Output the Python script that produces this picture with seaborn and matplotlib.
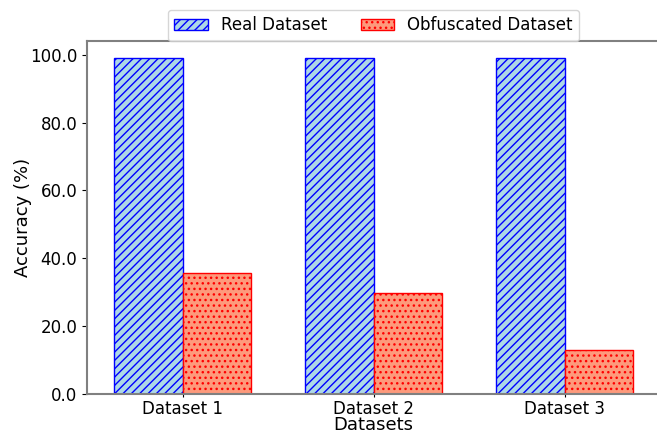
import matplotlib
matplotlib.use("Agg")
import matplotlib.pyplot as plt
import seaborn as sns
import pandas as pd

categories = ["Dataset 1", "Dataset 2", "Dataset 3"]
real_acc = [99.1, 99.1, 99.1]
obf_acc = [35.8, 29.9, 12.9]
series_names = ["Real Dataset", "Obfuscated Dataset"]

df = pd.DataFrame({
    "Dataset": categories * 2,
    "Accuracy": real_acc + obf_acc,
    "Type": [series_names[0]] * 3 + [series_names[1]] * 3,
})

plt.rcParams["hatch.linewidth"] = 1.0
fig = plt.figure(figsize=(6.57, 4.34), dpi=100)
ax = fig.add_axes([87/657, 40/434, (660-87)/657, (394-41)/434])

sns.barplot(data=df, x="Dataset", y="Accuracy", hue="Type",
            palette=["#add8e6", "#fd9a7c"], width=0.72, ax=ax,
            saturation=1, legend=False, errorbar=None)

styles = [("#add8e6", "blue", "////"), ("#fd9a7c", "red", "...")]
for cont, (fc, ec, h) in zip(ax.containers, styles):
    for p in cont:
        p.set_facecolor(fc)
        p.set_edgecolor(ec)
        p.set_hatch(h)
        p.set_linewidth(1.0)

ax.set_xlim(-0.5, 2.5)
ax.set_xlabel("Datasets", fontsize=13, labelpad=-1)
ax.set_ylabel("Accuracy (%)", fontsize=13, labelpad=-1.5)
ax.tick_params(axis="both", labelsize=12)
ax.tick_params(axis="x", length=2, pad=2)
ax.yaxis.set_major_formatter(matplotlib.ticker.FormatStrFormatter("%.1f"))
ax.set_yticks([0, 20, 40, 60, 80, 100])
for s in ["left", "bottom", "top"]:
    ax.spines[s].set_color("gray")
    ax.spines[s].set_linewidth(1.5)
ax.spines["right"].set_visible(False)

ax.legend(ax.containers, series_names, loc="lower center",
          bbox_to_anchor=(0.5, 1.0), ncol=2, fontsize=12, frameon=True,
          borderaxespad=0.0, columnspacing=2.0)

fig.savefig("out.png", dpi=100)
